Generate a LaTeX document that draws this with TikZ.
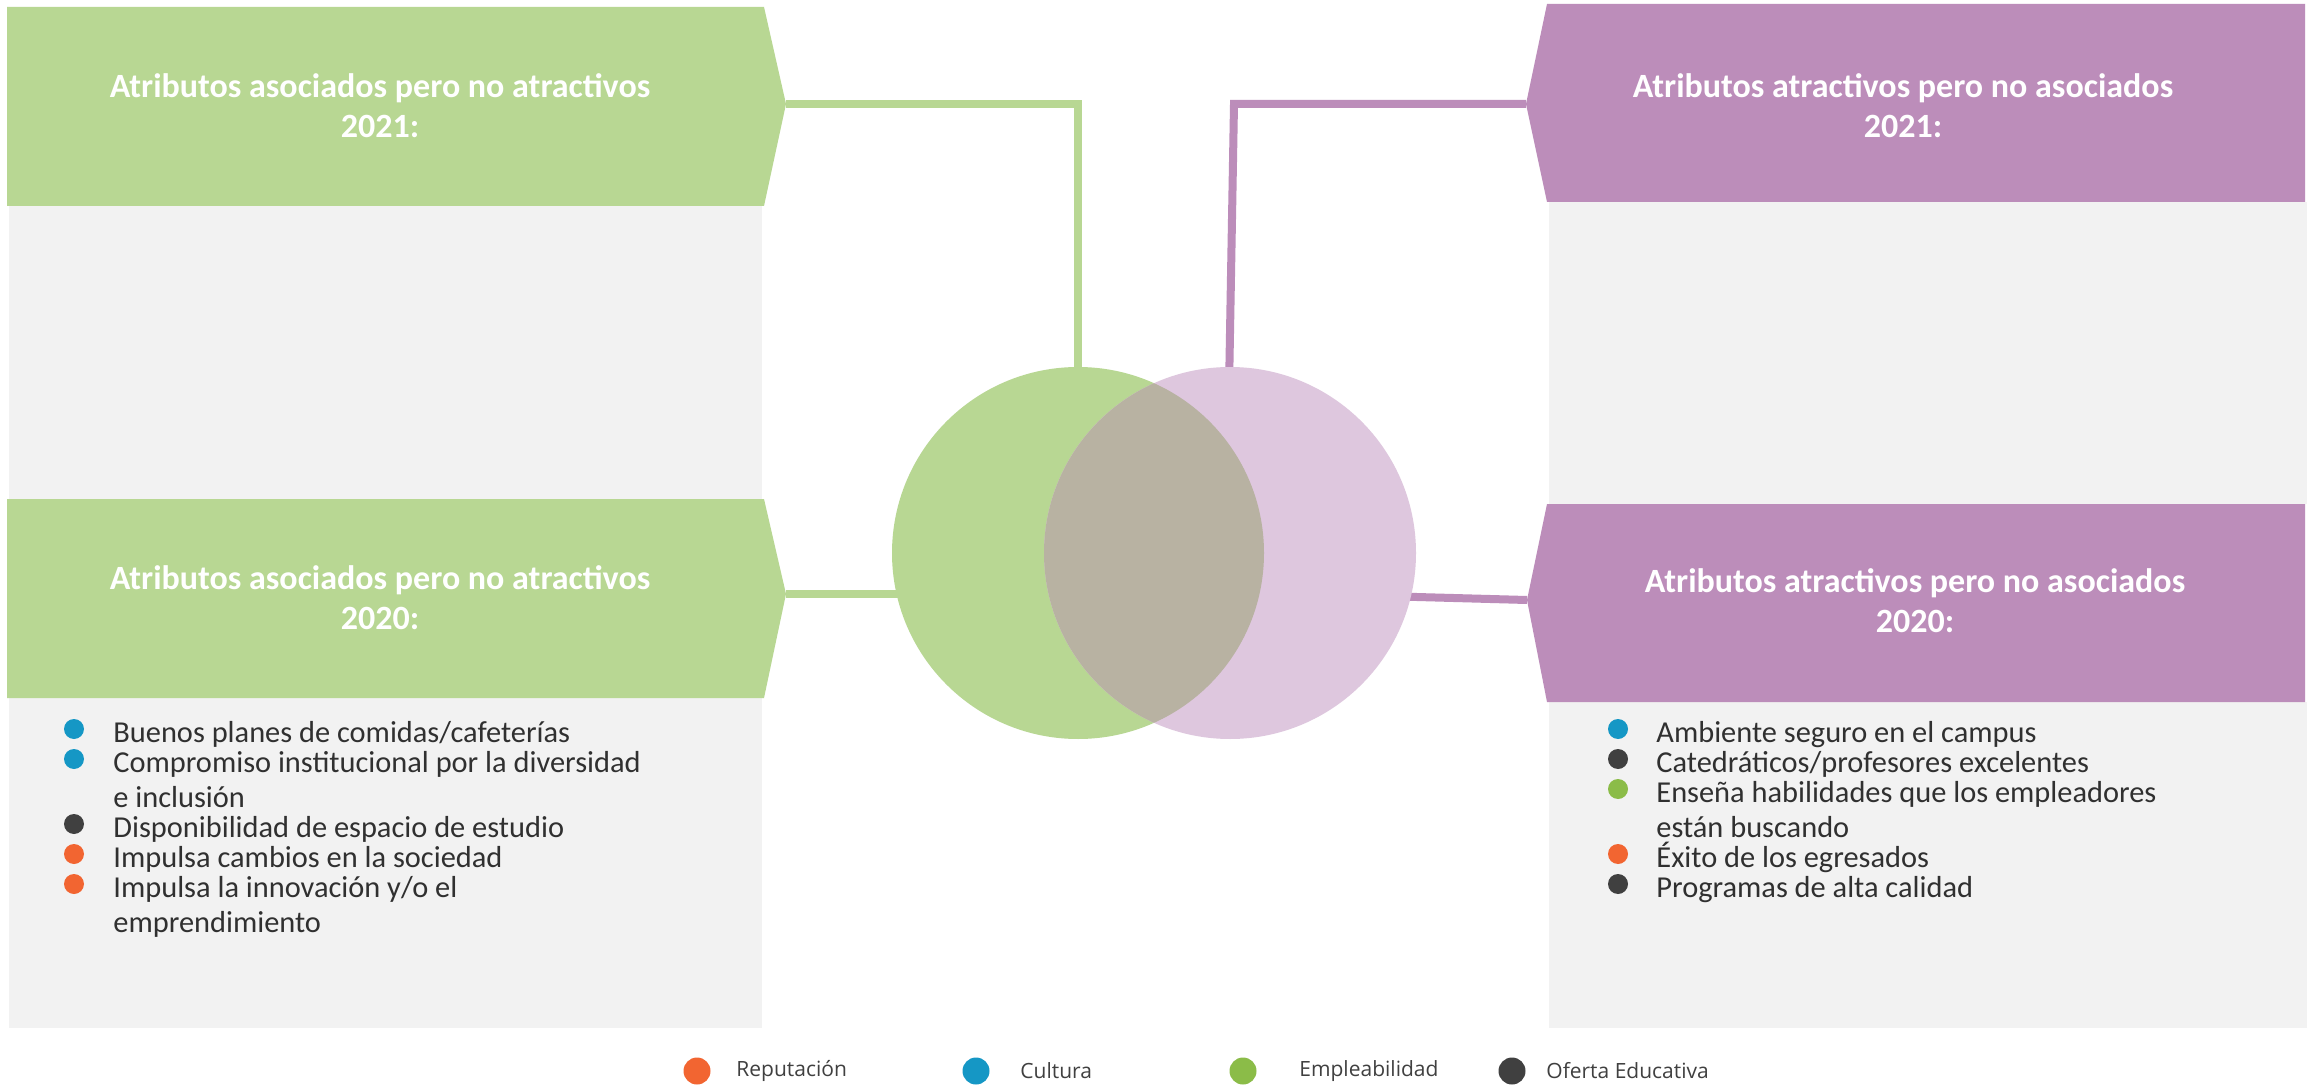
\documentclass[tikz,border=0pt]{standalone}
\usepackage{fontspec}
\setmainfont{Carlito}
\newfontfamily\legendfont{Open Sans}
\definecolor{hgreen}{HTML}{B8D793}
\definecolor{hpurple}{HTML}{BC8DBA}
\definecolor{plight}{HTML}{DEC7DE}
\definecolor{overlapc}{HTML}{B8B2A2}
\definecolor{boxgrey}{HTML}{F2F2F2}
\definecolor{txtgrey}{HTML}{303030}
\definecolor{corange}{HTML}{F26531}
\definecolor{cblue}{HTML}{1597C5}
\definecolor{cgreen}{HTML}{8BBC48}
\definecolor{cdark}{HTML}{404040}
\begin{document}
\begin{tikzpicture}[x=0.5pt,y=-0.5pt,
  hdrtext/.style={anchor=base, text=white, font=\fontsize{17}{20}\selectfont\bfseries, inner sep=0},
  itemtext/.style={anchor=base west, text=txtgrey, font=\fontsize{15.2}{18}\selectfont, inner sep=0},
  bullet/.style={circle, minimum size=10pt, inner sep=0},
  legdot/.style={circle, minimum size=13.5pt, inner sep=0},
  legtext/.style={anchor=west, text=cdark, font=\legendfont\fontsize{10.5}{12}\selectfont, inner sep=0},
  gline/.style={draw=hgreen, line width=4pt},
  pline/.style={draw=hpurple, line width=4pt},
  venn/.style={circle, minimum size=186pt, inner sep=0}
]
\useasboundingbox (0,0) rectangle (2313,1085);
\fill[white] (0,0) rectangle (2313,1085);

% grey boxes
\fill[boxgrey] (9,206) rectangle (762,499);
\fill[boxgrey] (9,698) rectangle (762,1028);
\fill[boxgrey] (1549,202) rectangle (2307,504);
\fill[boxgrey] (1549,702) rectangle (2307,1028);

% headers
\fill[hgreen] (7,7) -- (764,7) -- (786,104) -- (764,206) -- (7,206) -- cycle;
\fill[hgreen] (7,499) -- (764,499) -- (786,594) -- (764,698) -- (7,698) -- cycle;
\fill[hpurple] (1547,4) -- (2305,4) -- (2305,202) -- (1547,202) -- (1526,104) -- cycle;
\fill[hpurple] (1547,504) -- (2305,504) -- (2305,702) -- (1547,702) -- (1527,600) -- cycle;

\coordinate (gtipA) at (786,104);
\coordinate (gtipB) at (786,594);
\coordinate (ptipA) at (1526,104);
\coordinate (ptipB) at (1527,600);
\coordinate (pbend) at (1234,104);
\coordinate (pendA) at (1229,390);
\coordinate (pendB) at (1380,596);
\coordinate (gcent) at (1078,553);
\coordinate (pcent) at (1230,553);

% connectors (behind circles)
\draw[gline] (gtipA) -| (gcent);
\draw[gline] (gtipB) -- (gtipB -| gcent);
\draw[pline] (ptipA) -- (pbend) -- (pendA);
\draw[pline] (ptipB) -- (pendB);

% venn circles
\node[venn, fill=hgreen] (gc) at (gcent) {};
\node[venn, fill=plight] (pc) at (pcent) {};
\begin{scope}
  \clip (gc.center) circle[radius=186];
  \fill[overlapc] (pc.center) circle[radius=186];
\end{scope}

% header texts
\node[hdrtext] (h1a) at (380,98) {Atributos asociados pero no atractivos};
\node[hdrtext] (h1b) at (380,138) {2021:};
\node[hdrtext] (h2a) at (380,589) {Atributos asociados pero no atractivos};
\node[hdrtext] (h2b) at (380,629) {2020:};
\node[hdrtext] (h3a) at (1903,98) {Atributos atractivos pero no asociados};
\node[hdrtext] (h3b) at (1903,138) {2021:};
\node[hdrtext] (h4a) at (1915,592) {Atributos atractivos pero no asociados};
\node[hdrtext] (h4b) at (1915,632) {2020:};

% left list
\node[bullet, fill=cblue] (lb1) at (74,729) {};
\node[itemtext] (lt1) at (113,742) {Buenos planes de comidas/cafeterías};
\node[bullet, fill=cblue] (lb2) at (74,759) {};
\node[itemtext] (lt2) at (113,772) {Compromiso institucional por la diversidad};
\node[itemtext] (lt2b) at (113,807) {e inclusión};
\node[bullet, fill=cdark] (lb3) at (74,824) {};
\node[itemtext] (lt3) at (113,837) {Disponibilidad de espacio de estudio};
\node[bullet, fill=corange] (lb4) at (74,854) {};
\node[itemtext] (lt4) at (113,867) {Impulsa cambios en la sociedad};
\node[bullet, fill=corange] (lb5) at (74,884) {};
\node[itemtext] (lt5) at (113,897) {Impulsa la innovación y/o el};
\node[itemtext] (lt5b) at (113,932) {emprendimiento};

% right list
\node[bullet, fill=cblue] (rb1) at (1618,729) {};
\node[itemtext] (rt1) at (1656,742) {Ambiente seguro en el campus};
\node[bullet, fill=cdark] (rb2) at (1618,759) {};
\node[itemtext] (rt2) at (1656,772) {Catedráticos/profesores excelentes};
\node[bullet, fill=cgreen] (rb3) at (1618,789) {};
\node[itemtext] (rt3) at (1656,802) {Enseña habilidades que los empleadores};
\node[itemtext] (rt3b) at (1656,837) {están buscando};
\node[bullet, fill=corange] (rb4) at (1618,854) {};
\node[itemtext] (rt4) at (1656,867) {Éxito de los egresados};
\node[bullet, fill=cdark] (rb5) at (1618,884) {};
\node[itemtext] (rt5) at (1656,897) {Programas de alta calidad};

% legend
\node[legdot, fill=corange] (ld1) at (697,1071) {};
\node[legtext] (ll1) at (736,1071) {Reputación};
\node[legdot, fill=cblue] (ld2) at (976,1071) {};
\node[legtext] (ll2) at (1020,1071) {Cultura};
\node[legdot, fill=cgreen] (ld3) at (1243,1071) {};
\node[legtext] (ll3) at (1299,1071) {Empleabilidad};
\node[legdot, fill=cdark] (ld4) at (1512,1071) {};
\node[legtext] (ll4) at (1546,1071) {Oferta Educativa};
\end{tikzpicture}
\end{document}
